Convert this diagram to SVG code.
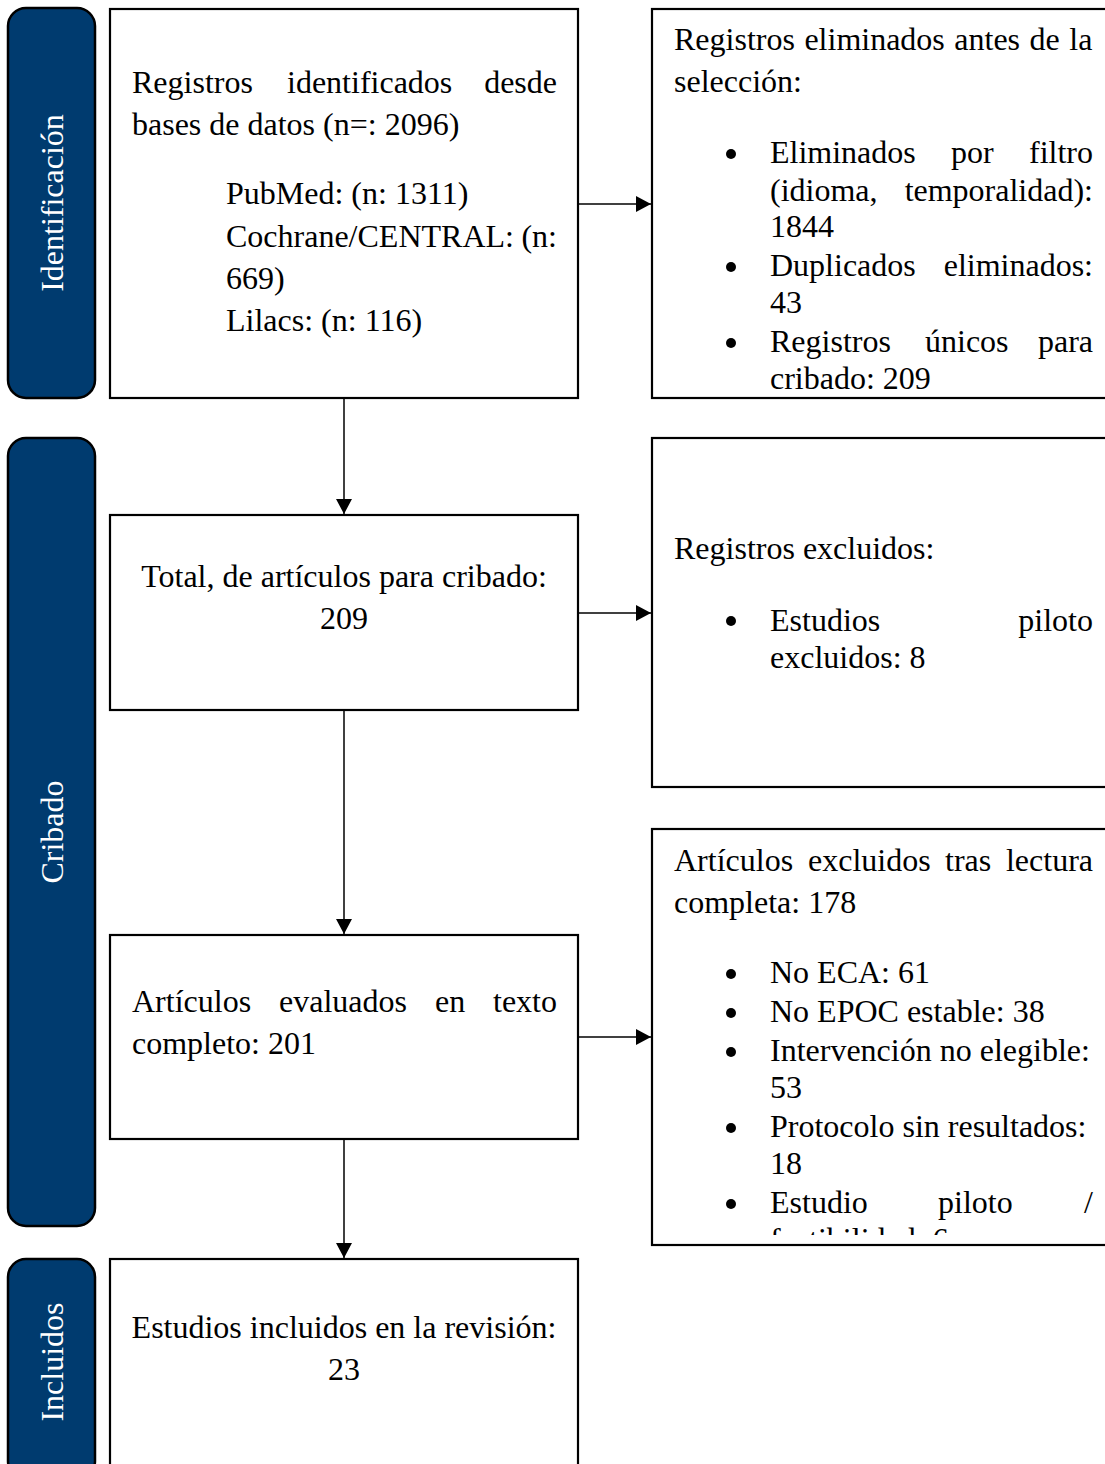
<svg xmlns="http://www.w3.org/2000/svg" width="1105" height="1464" viewBox="0 0 1105 1464">
<style>
.side{fill:#003b6f;stroke:#000;stroke-width:2.5}
.box{fill:#fff;stroke:#000;stroke-width:2.2}
.t{font-family:"Liberation Serif","Times New Roman",serif;font-size:32px;fill:#000}
.c{text-anchor:middle}
.sl{font-family:"Liberation Serif","DejaVu Serif",serif;font-size:32px;fill:#fff;text-anchor:middle}
.ln{stroke:#000;stroke-width:1.5;fill:none}
</style>
<defs>
<marker id="ah" markerWidth="15" markerHeight="16" refX="15" refY="8" orient="auto" markerUnits="userSpaceOnUse" viewBox="0 0 15 16">
<path d="M0,0 L15,8 L0,16 z" fill="#000"/>
</marker>
<clipPath id="cr1"><rect x="652" y="9" width="460" height="383"/></clipPath>
<clipPath id="cr3"><rect x="652" y="829" width="460" height="406"/></clipPath>
</defs>

<g id="side-identificacion">
<rect class="side" x="8" y="8" width="87" height="390" rx="18"/>
<text class="sl" transform="translate(63,203) rotate(-90)">Identificación</text>
</g>
<g id="side-cribado">
<rect class="side" x="8" y="438" width="87" height="788" rx="18"/>
<text class="sl" transform="translate(63,832) rotate(-90)">Cribado</text>
</g>
<g id="side-incluidos">
<rect class="side" x="8" y="1259" width="87" height="220" rx="18"/>
<text class="sl" transform="translate(63,1362) rotate(-90)">Incluidos</text>
</g>

<g id="n1">
<rect class="box" x="110" y="9" width="468" height="389"/>
<text class="t" y="93"><tspan x="132">Registros</tspan><tspan x="287">identificados</tspan><tspan x="557" text-anchor="end">desde</tspan></text>
<text class="t" x="132" y="135">bases de datos (n=: 2096)</text>
<text class="t" x="226" y="204">PubMed: (n: 1311)</text>
<text class="t" y="247"><tspan x="226">Cochrane/CENTRAL:</tspan><tspan x="557" text-anchor="end">(n:</tspan></text>
<text class="t" x="226" y="289">669)</text>
<text class="t" x="226" y="331">Lilacs: (n: 116)</text>
</g>

<g id="n1r">
<rect class="box" x="652" y="9" width="470" height="389"/>
<g clip-path="url(#cr1)">
<text class="t" x="674" y="50" word-spacing="1.5">Registros eliminados antes de la</text>
<text class="t" x="674" y="92">selección:</text>
<circle cx="731" cy="154" r="5"/>
<text class="t" y="163"><tspan x="770">Eliminados</tspan><tspan x="951">por</tspan><tspan x="1093" text-anchor="end">filtro</tspan></text>
<text class="t" y="201"><tspan x="770">(idioma,</tspan><tspan x="1093" text-anchor="end">temporalidad):</tspan></text>
<text class="t" x="770" y="237">1844</text>
<circle cx="731" cy="267" r="5"/>
<text class="t" y="276"><tspan x="770">Duplicados</tspan><tspan x="1093" text-anchor="end">eliminados:</tspan></text>
<text class="t" x="770" y="313">43</text>
<circle cx="731" cy="343" r="5"/>
<text class="t" y="352"><tspan x="770">Registros</tspan><tspan x="925">únicos</tspan><tspan x="1093" text-anchor="end">para</tspan></text>
<text class="t" x="770" y="389">cribado: 209</text>
</g>
</g>

<g id="n2">
<rect class="box" x="110" y="515" width="468" height="195"/>
<text class="t c" x="344" y="587">Total, de artículos para cribado:</text>
<text class="t c" x="344" y="629">209</text>
</g>

<g id="n2r">
<rect class="box" x="652" y="438" width="470" height="349"/>
<text class="t" x="674" y="559">Registros excluidos:</text>
<circle cx="731" cy="621" r="5"/>
<text class="t" y="631"><tspan x="770">Estudios</tspan><tspan x="1093" text-anchor="end">piloto</tspan></text>
<text class="t" x="770" y="668">excluidos: 8</text>
</g>

<g id="n3">
<rect class="box" x="110" y="935" width="468" height="204"/>
<text class="t" y="1012"><tspan x="132">Artículos</tspan><tspan x="279">evaluados</tspan><tspan x="435">en</tspan><tspan x="557" text-anchor="end">texto</tspan></text>
<text class="t" x="132" y="1054">completo: 201</text>
</g>

<g id="n3r">
<rect class="box" x="652" y="829" width="470" height="416"/>
<g clip-path="url(#cr3)">
<text class="t" y="871"><tspan x="674">Artículos</tspan><tspan x="808">excluidos</tspan><tspan x="945">tras</tspan><tspan x="1093" text-anchor="end">lectura</tspan></text>
<text class="t" x="674" y="913">completa: 178</text>
<circle cx="731" cy="974" r="5"/>
<text class="t" x="770" y="983">No ECA: 61</text>
<circle cx="731" cy="1013" r="5"/>
<text class="t" x="770" y="1022">No EPOC estable: 38</text>
<circle cx="731" cy="1052" r="5"/>
<text class="t" x="770" y="1061">Intervención no elegible:</text>
<text class="t" x="770" y="1098">53</text>
<circle cx="731" cy="1128" r="5"/>
<text class="t" x="770" y="1137">Protocolo sin resultados:</text>
<text class="t" x="770" y="1174">18</text>
<circle cx="731" cy="1204" r="5"/>
<text class="t" y="1213"><tspan x="770">Estudio</tspan><tspan x="938">piloto</tspan><tspan x="1093" text-anchor="end">/</tspan></text>
<text class="t" x="770" y="1250">factibilidad: 6</text>
</g>
</g>

<g id="n4">
<rect class="box" x="110" y="1259" width="468" height="220"/>
<text class="t c" x="344" y="1338">Estudios incluidos en la revisión:</text>
<text class="t c" x="344" y="1380">23</text>
</g>

<g id="connectors">
<line class="ln" x1="344" y1="398" x2="344" y2="514" marker-end="url(#ah)"/>
<line class="ln" x1="344" y1="710" x2="344" y2="934" marker-end="url(#ah)"/>
<line class="ln" x1="344" y1="1139" x2="344" y2="1258" marker-end="url(#ah)"/>
<line class="ln" x1="578" y1="204" x2="651" y2="204" marker-end="url(#ah)"/>
<line class="ln" x1="578" y1="613" x2="651" y2="613" marker-end="url(#ah)"/>
<line class="ln" x1="578" y1="1037" x2="651" y2="1037" marker-end="url(#ah)"/>
</g>
</svg>
